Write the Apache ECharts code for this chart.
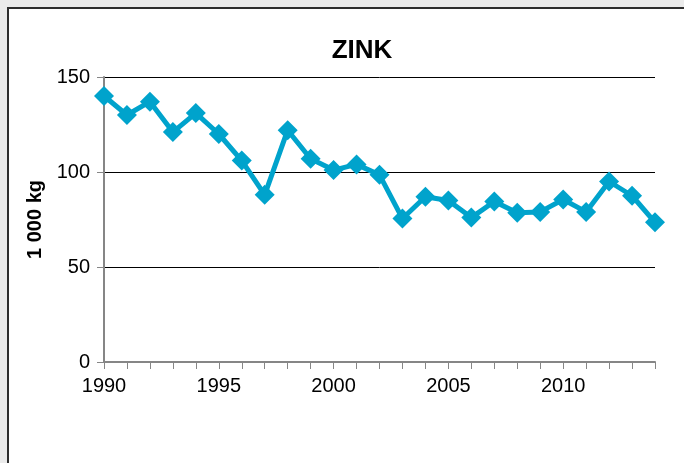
<!DOCTYPE html>
<html>
<head>
<meta charset="utf-8">
<script src="https://cdn.jsdelivr.net/npm/echarts@6/dist/echarts.min.js"></script>
<style>
  html, body { margin: 0; padding: 0; background: #ebebeb; overflow: hidden; width: 684px; height: 463px; }
  #panel {
    position: absolute; left: 7px; top: 7px; width: 720px; height: 500px;
    background: #fff; border-left: 2px solid #2e2e2e; border-top: 2px solid #2e2e2e;
  }
  #chart { position: absolute; left: 0; top: 0; width: 684px; height: 463px; }
</style>
</head>
<body>
<div id="panel"></div>
<div id="chart"></div>
<script>
// years on the x axis
var years = ['1990','1991','1992','1993','1994','1995','1996','1997','1998','1999',
             '2000','2001','2002','2003','2004','2005','2006','2007','2008','2009',
             '2010','2011','2012','2013','2014'];
// zink, 1 000 kg
var zink = [140, 130, 137, 121, 131, 120, 106, 88, 122, 107,
            101, 104, 98.5, 75.5, 87, 85, 76, 84.5, 78.5, 79,
            85.5, 79, 95, 87.5, 73.5];

var myChart = echarts.init(document.getElementById('chart'), null, {renderer: 'canvas'});
var font = 'Liberation Sans, Arial, sans-serif';

var option = {
    animation: false,
    backgroundColor: 'transparent',
    title: {
        text: 'ZINK',
        left: 357,
        top: 33,
        textAlign: 'center',
        textStyle: { fontFamily: font, fontSize: 26, fontWeight: 'bold', color: '#000' }
    },
    grid: { left: 104, right: 29, top: 77, bottom: 101, containLabel: false },
    xAxis: {
        type: 'category',
        data: years,
        boundaryGap: false,
        axisLine: { lineStyle: { color: '#868686', width: 2 } },
        axisTick: { show: true, interval: 0, length: 7, inside: false, lineStyle: { color: '#868686', width: 1 } },
        axisLabel: { interval: 4, margin: 14, fontFamily: font, fontSize: 20, color: '#000' },
        splitLine: { show: false }
    },
    yAxis: {
        type: 'value',
        min: 0,
        max: 150,
        interval: 50,
        name: '1 000 kg',
        nameLocation: 'middle',
        nameRotate: 90,
        nameGap: 58,
        nameTextStyle: { fontFamily: font, fontSize: 20, fontWeight: 'bold', color: '#000' },
        axisLine: { show: true, lineStyle: { color: '#868686', width: 2 } },
        axisTick: { show: true, length: 7, lineStyle: { color: '#868686', width: 1 } },
        axisLabel: { margin: 14, fontFamily: font, fontSize: 20, color: '#000' },
        splitLine: { show: true, lineStyle: { color: '#000', width: 1 } }
    },
    series: [{
        type: 'line',
        name: 'ZINK',
        data: zink,
        symbol: 'diamond',
        symbolSize: 20,
        showAllSymbol: true,
        lineStyle: { color: '#00a3cc', width: 5 },
        itemStyle: { color: '#00a3cc' }
    }]
};
myChart.setOption(option);
</script>
</body>
</html>
